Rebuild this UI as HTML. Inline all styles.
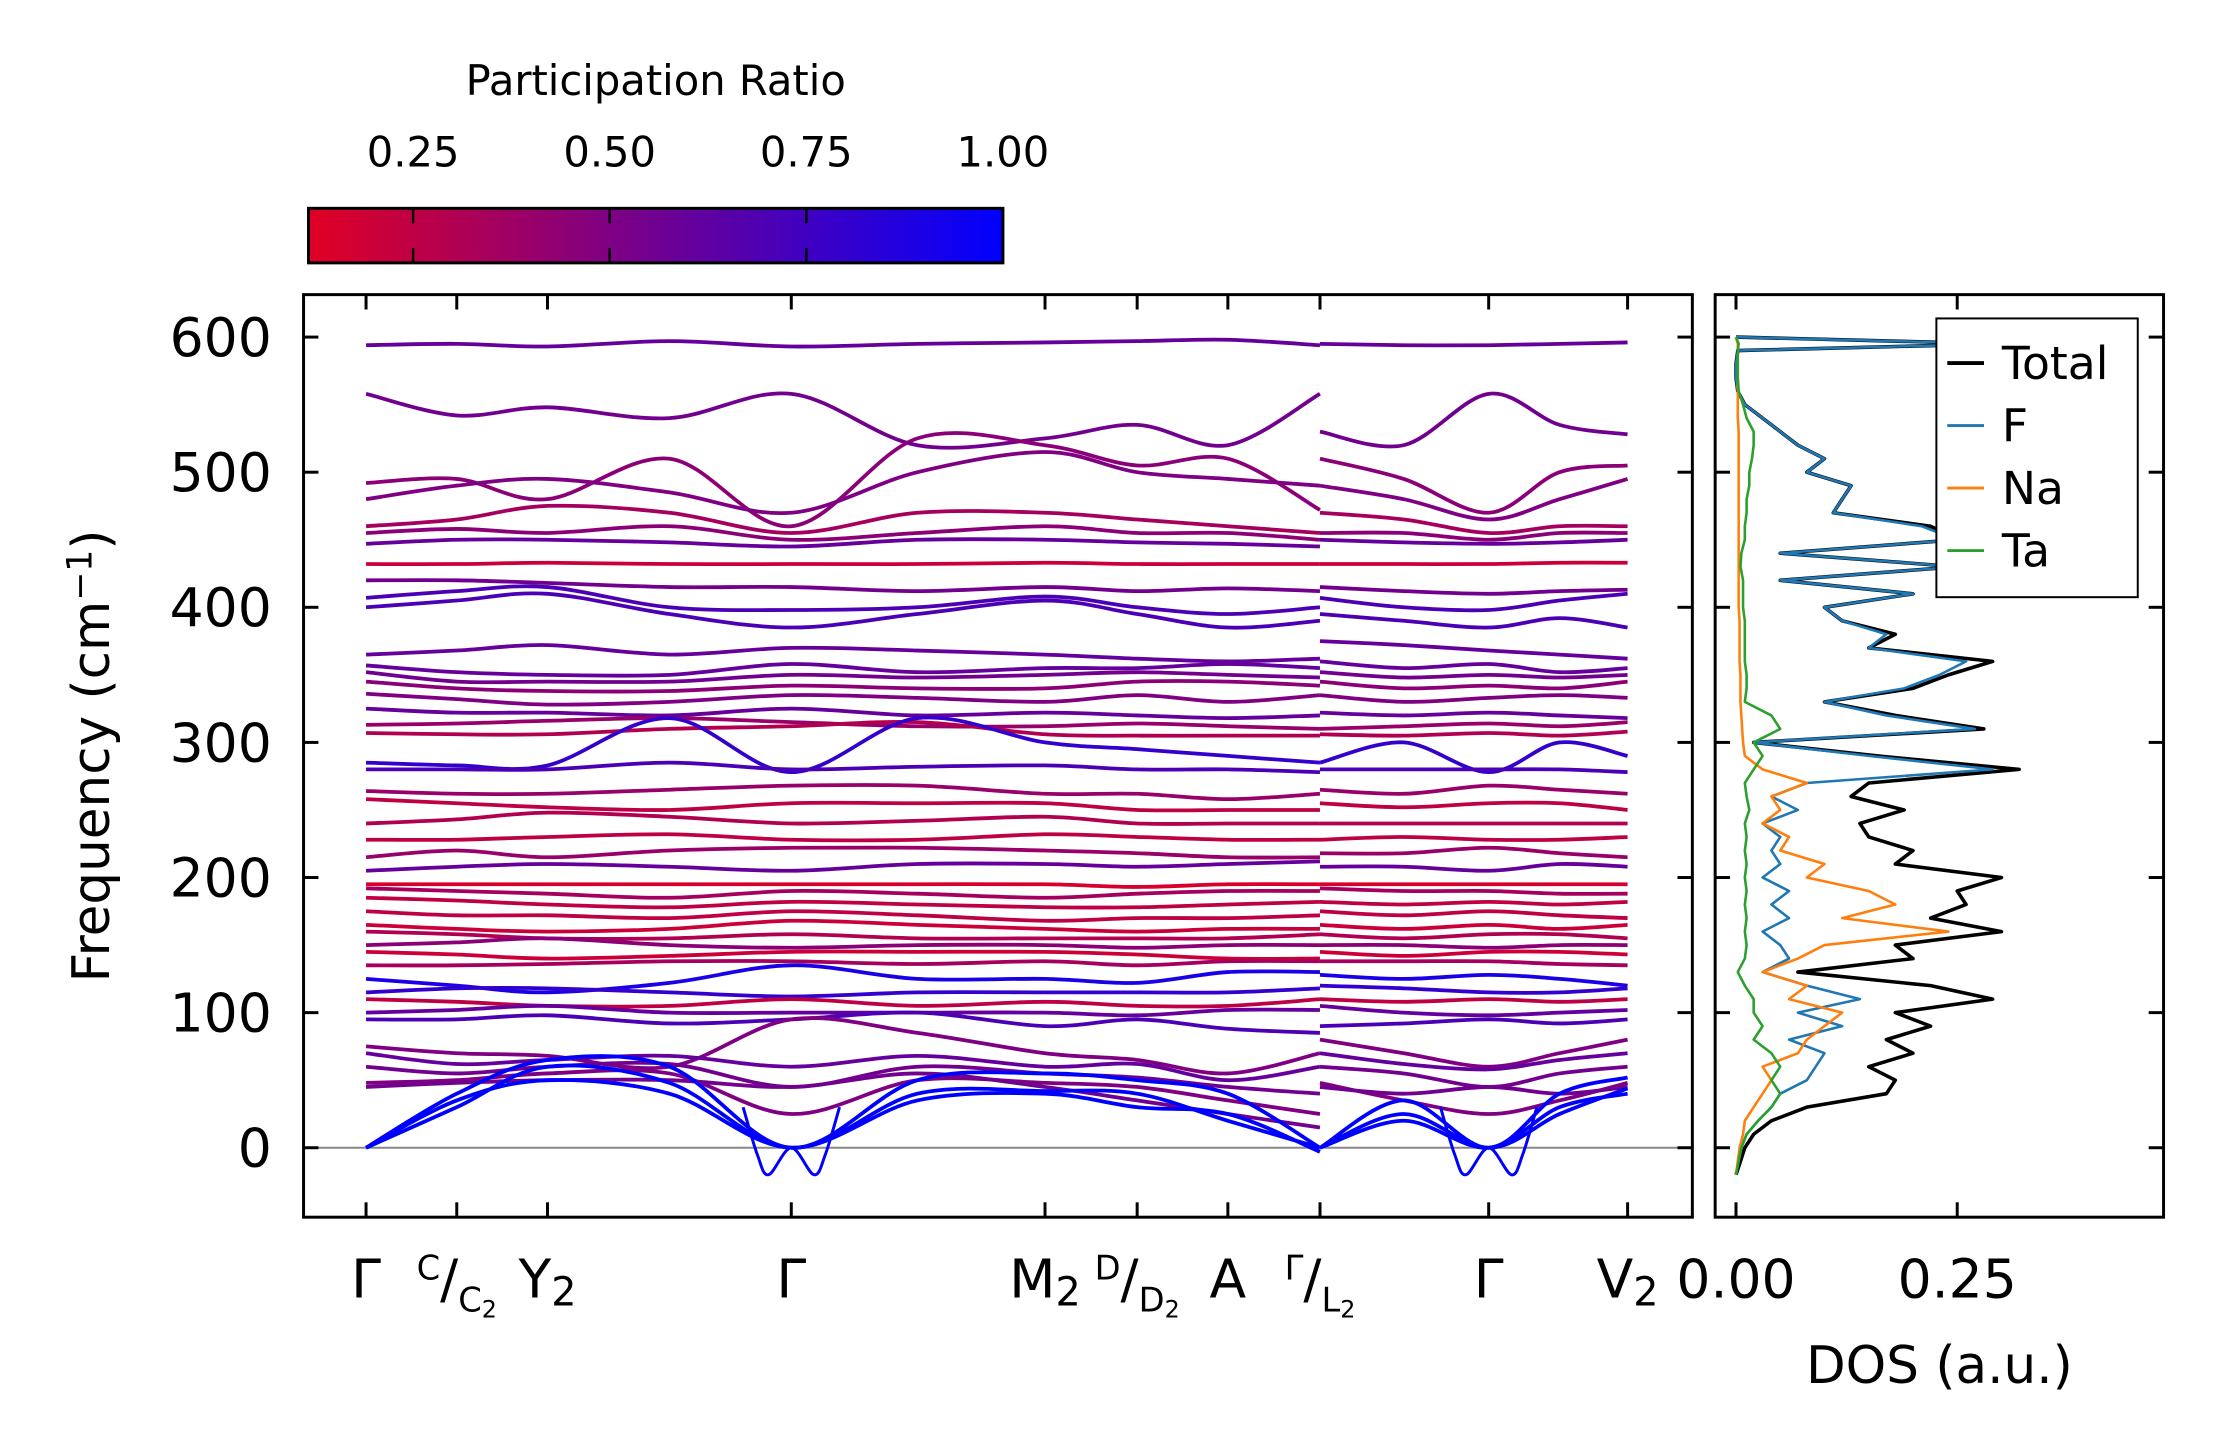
<!DOCTYPE html>
<html><head><meta charset="utf-8"><style>
html,body{margin:0;padding:0;background:#fff}
svg{display:block}
text{font-family:"DejaVu Sans","Liberation Sans",sans-serif;fill:#000}
</style></head><body>
<svg id="fig" width="2222" height="1455" viewBox="0 0 2222 1455" xmlns="http://www.w3.org/2000/svg">
<defs>
<linearGradient id="cbgrad" x1="0" x2="1" y1="0" y2="0">
<stop offset="0" stop-color="rgb(224,0,36)"/><stop offset="1" stop-color="rgb(0,0,255)"/>
</linearGradient>
<clipPath id="mainclip"><rect x="306" y="297" width="1400" height="930"/></clipPath>
<clipPath id="dosclip"><rect x="1729" y="297" width="452" height="930"/></clipPath>
</defs>
<g id="root" transform="scale(0.992)">
<g id="colorbar">
<text x="661" y="96" font-size="42" text-anchor="middle">Participation Ratio</text>
<rect x="311" y="210" width="700" height="55" fill="url(#cbgrad)" stroke="#000" stroke-width="3"/>
</g>
<g id="bands" clip-path="url(#mainclip)"></g>
<g id="dos" clip-path="url(#dosclip)"></g>
<g id="axes"></g>
<g id="legend"></g>
</g>
</svg>
<script>
// ---------- data ----------
const cbTicks = [0.25, 0.50, 0.75, 1.00];
const cbMin = 0.117, cbMax = 1.0;
const kLabels = ["Γ", "C/C|2", "Y|2", "Γ", "M|2", "D/D|2", "A", "Γ/L|2", "Γ", "V|2"];
const kTicks = [0, 64, 128, 300, 479, 544, 608, 673, 792, 890];
const kLeft = [0, 64, 128, 214, 300, 389, 479, 544, 608, 673];
const kRight = [673, 732, 792, 842, 890];
const yTicks = [0, 100, 200, 300, 400, 500, 600];
const bands = [
[594,595,593,597,593,595,596,597,598,594, 595,594,594,595,596],
[558,542,548,540,558,520,525,535,520,558, 530,520,558,535,528],
[492,495,480,510,460,525,520,505,510,472, 510,495,470,500,505],
[480,490,495,485,470,500,515,500,495,490, 490,480,465,480,495],
[460,465,475,470,455,470,470,465,460,455, 470,465,455,460,460],
[455,458,455,460,450,455,460,455,455,450, 455,455,450,455,455],
[447,450,450,448,445,450,450,448,447,445, 450,448,447,448,450],
[432,432,433,432,432,432,433,432,432,432, 432,432,432,433,433],
[420,420,418,415,415,412,415,412,414,412, 415,412,410,412,413],
[407,412,415,400,398,400,408,400,395,400, 407,400,398,405,410],
[400,405,410,395,385,395,405,395,385,390, 395,390,385,392,385],
[365,368,372,365,370,368,365,362,360,362, 375,372,368,365,362],
[357,352,350,350,358,352,355,355,358,355, 360,355,358,352,355],
[352,345,345,345,350,348,350,352,350,348, 352,348,350,348,350],
[345,340,338,338,342,340,340,345,345,342, 345,340,342,340,345],
[336,332,328,330,335,333,330,335,330,335, 335,330,333,335,333],
[325,322,322,320,325,320,322,320,318,320, 322,320,322,320,318],
[313,314,316,318,315,312,312,314,312,310, 310,312,314,312,315],
[307,306,306,310,312,315,306,305,305,305, 306,305,307,305,308],
[285,283,283,318,278,318,300,295,290,285, 285,300,278,300,290],
[280,280,280,285,280,282,283,280,280,278, 280,280,280,280,278],
[264,262,262,265,268,268,262,262,258,262, 265,262,268,265,262],
[258,255,252,250,255,255,255,250,250,250, 255,252,255,255,250],
[240,243,248,245,240,242,245,240,240,240, 240,240,240,240,240],
[228,228,230,232,228,228,232,230,228,228, 228,230,228,228,230],
[215,220,215,220,222,222,220,218,215,215, 218,218,222,218,215],
[205,208,210,208,205,210,210,208,210,212, 208,208,205,210,208],
[195,195,195,195,195,195,195,193,195,195, 195,195,195,195,195],
[192,190,188,185,190,188,185,188,190,190, 192,190,190,188,188],
[185,183,180,178,182,180,178,178,180,182, 182,180,182,180,182],
[175,172,172,170,175,172,168,170,170,172, 175,172,175,172,170],
[165,162,160,162,168,165,162,160,162,162, 165,162,165,162,165],
[160,158,155,155,158,155,155,155,155,158, 158,155,158,158,155],
[150,152,155,150,148,150,150,148,150,150, 150,150,148,150,150],
[145,143,140,142,145,145,145,143,140,140, 145,142,145,145,143],
[135,135,136,138,138,136,138,135,138,138, 138,138,138,136,135],
[125,120,115,122,135,125,125,122,130,130, 128,125,128,125,120],
[115,118,118,115,112,115,115,115,115,118, 120,118,115,115,118],
[110,108,105,105,110,105,108,105,105,110, 110,108,110,108,110],
[100,102,105,100,100,100,100,98,102,102, 105,100,98,100,102],
[95,95,98,92,95,100,90,95,88,85, 90,92,95,92,95],
[75,70,68,60,95,85,70,65,55,70, 80,70,60,70,80],
[70,62,65,68,60,68,60,62,50,60, 70,62,58,65,70],
[60,55,60,62,45,60,55,52,45,40, 60,55,45,55,60],
[48,50,55,55,25,50,48,45,35,25, 48,35,25,35,48],
[45,48,50,50,45,55,45,35,25,15, 45,40,45,40,45],
[0,30,60,48,0,40,42,40,20,0, 0,25,0,25,44],
[0,40,65,60,0,50,55,50,40,0, 0,35,0,40,52],
[0,35,50,40,0,35,40,30,25,-3, 0,20,0,30,40]
];
const bandPR = [0.6,0.55,0.45,0.5,0.35,0.45,0.6,0.2,0.55,0.7,0.7,0.6,0.6,0.55,0.45,0.5,0.6,0.4,0.3,0.8,0.7,0.4,0.25,0.3,0.25,0.4,0.6,0.15,0.35,0.25,0.25,0.2,0.3,0.45,0.2,0.35,0.9,0.8,0.25,0.6,0.7,0.5,0.6,0.55,0.5,0.55,1.0,1.0,1.0];
const softK1 = [266, 276, 284, 300, 316, 324, 334];
const softF1 = [30, -5, -20, 0, -20, -5, 30];
const softK2 = [758, 768, 776, 792, 808, 816, 826];
const softF2 = [30, -5, -20, 0, -20, -5, 30];
const dosFreq = [-20,-10,0,10,20,30,40,50,60,70,80,90,100,110,120,130,140,150,160,170,180,190,200,210,220,230,240,250,260,270,280,290,300,310,320,330,340,350,360,370,380,390,400,410,420,430,440,450,460,470,480,490,500,510,520,530,540,550,560,570,580,590,595,600];
const dosTotal = [0,0.005,0.01,0.02,0.04,0.08,0.17,0.18,0.15,0.20,0.17,0.22,0.18,0.29,0.22,0.07,0.20,0.18,0.30,0.22,0.26,0.25,0.30,0.18,0.20,0.15,0.14,0.19,0.13,0.15,0.32,0.16,0.02,0.28,0.18,0.10,0.20,0.24,0.29,0.15,0.18,0.12,0.10,0.20,0.05,0.25,0.05,0.25,0.22,0.11,0.12,0.13,0.08,0.10,0.07,0.05,0.03,0.01,0.002,0,0,0.002,0.30,0];
const dosF = [0,0.003,0.006,0.012,0.025,0.04,0.05,0.08,0.09,0.10,0.06,0.12,0.07,0.14,0.08,0.03,0.06,0.05,0.03,0.06,0.04,0.06,0.03,0.05,0.04,0.05,0.03,0.07,0.04,0.08,0.29,0.15,0.02,0.27,0.17,0.10,0.19,0.23,0.26,0.15,0.17,0.12,0.10,0.20,0.05,0.25,0.05,0.25,0.21,0.11,0.12,0.13,0.08,0.10,0.07,0.05,0.03,0.01,0.002,0,0,0.002,0.30,0];
const dosNa = [0,0.002,0.004,0.008,0.01,0.02,0.03,0.04,0.03,0.07,0.08,0.10,0.12,0.06,0.08,0.03,0.07,0.10,0.24,0.12,0.18,0.15,0.08,0.10,0.05,0.06,0.03,0.05,0.04,0.08,0.03,0.01,0.008,0.007,0.006,0.005,0.005,0.005,0.004,0.004,0.004,0.004,0.003,0.003,0.003,0.003,0.003,0.003,0.003,0.003,0.003,0.003,0.003,0.003,0.003,0.003,0.002,0.002,0.002,0.002,0.002,0.002,0.002,0];
const dosTa = [0,0.003,0.006,0.012,0.025,0.04,0.05,0.04,0.05,0.04,0.02,0.03,0.02,0.02,0.01,0.002,0.01,0.012,0.01,0.012,0.01,0.012,0.01,0.012,0.01,0.012,0.01,0.015,0.012,0.01,0.02,0.03,0.02,0.05,0.04,0.01,0.012,0.012,0.01,0.01,0.01,0.01,0.008,0.008,0.008,0.005,0.006,0.01,0.01,0.012,0.012,0.015,0.015,0.018,0.02,0.02,0.012,0.008,0.003,0.002,0.002,0.002,0.003,0];
const dosXTicks = [0, 0.25];
const legendNames = ["Total", "F", "Na", "Ta"];
const legendColors = ["#000000", "#1f77b4", "#ff7f0e", "#2ca02c"];

// ---------- scales ----------
const NS = "http://www.w3.org/2000/svg";
const X0 = 369, KPX = 1.4289;
const xK = k => X0 + k * KPX;
const yF = f => 1157 - f * 1.362;
const xD = d => 1750 + d * 892;
function prColor(p){
  const t = Math.max(0, Math.min(1, (p - cbMin) / (cbMax - cbMin)));
  return `rgb(${Math.round(224*(1-t))},0,${Math.round(36 + 219*t)})`;
}
function mk(tag, attrs, parent){
  const e = document.createElementNS(NS, tag);
  for (const a in attrs) e.setAttribute(a, attrs[a]);
  parent.appendChild(e); return e;
}
function smoothPath(pts){
  let d = `M${pts[0][0].toFixed(1)},${pts[0][1].toFixed(1)}`;
  for (let i = 0; i < pts.length - 1; i++){
    const p0 = pts[i-1] || pts[i], p1 = pts[i], p2 = pts[i+1], p3 = pts[i+2] || p2;
    const c1x = p1[0] + (p2[0]-p0[0])/6, c1y = p1[1] + (p2[1]-p0[1])/6;
    const c2x = p2[0] - (p3[0]-p1[0])/6, c2y = p2[1] - (p3[1]-p1[1])/6;
    d += ` C${c1x.toFixed(1)},${c1y.toFixed(1)} ${c2x.toFixed(1)},${c2y.toFixed(1)} ${p2[0].toFixed(1)},${p2[1].toFixed(1)}`;
  }
  return d;
}
const gB = document.getElementById('bands');
const gD = document.getElementById('dos');
const gA = document.getElementById('axes');
const gL = document.getElementById('legend');
const cb = document.getElementById('colorbar');

const zl = mk('line', {x1:306, x2:1706, y1:yF(0), y2:yF(0), stroke:'#888', 'stroke-width':2}, gB);



bands.forEach((b, i) => {
  const col = prColor(bandPR[i]);
  const left = kLeft.map((k, j) => [xK(k), yF(b[j])]);
  const right = kRight.map((k, j) => [xK(k), yF(b[10 + j])]);
  [left, right].forEach(pts => {
    const p = mk('path', {d: smoothPath(pts), fill:'none', stroke: col, 'stroke-width': 3.8}, gB);
    
    
  });
});
[[softK1, softF1], [softK2, softF2]].forEach(([ks, fs]) => {
  const pts = ks.map((k, j) => [xK(k), yF(fs[j])]);
  const p = mk('path', {d: smoothPath(pts), fill:'none', stroke: prColor(1), 'stroke-width': 3}, gB);
  
  
});

[[dosTotal,0],[dosF,1],[dosNa,2],[dosTa,3]].forEach(([arr, ci]) => {
  const pts = dosFreq.map((f, j) => `${xD(arr[j]).toFixed(1)},${yF(f).toFixed(1)}`).join(' ');
  const pl = mk('polyline', {points: pts, fill:'none', stroke: legendColors[ci], 'stroke-width': ci === 0 ? 3.6 : 2.6, 'stroke-linejoin':'round'}, gD);
  
  
});

const f1 = mk('rect', {x:306, y:297, width:1400, height:930, fill:'none', stroke:'#000', 'stroke-width':3}, gA);


const f2 = mk('rect', {x:1729, y:297, width:452, height:930, fill:'none', stroke:'#000', 'stroke-width':3}, gA);



yTicks.forEach(v => {
  const y = yF(v);
  [[306, 321],[1706, 1691],[1729, 1744],[2181, 2166]].forEach(([a, b]) => {
    const t = mk('line', {x1:a, x2:b, y1:y, y2:y, stroke:'#000', 'stroke-width':3}, gA);
    
    
  });
  const lb = mk('text', {x:274, y:y + 19, 'font-size':54, 'text-anchor':'end'}, gA);
  lb.textContent = String(v);
  
  
});
kTicks.forEach(k => {
  const x = xK(k);
  [[1227, 1212],[297, 312]].forEach(([a, b]) => {
    const t = mk('line', {x1:x, x2:x, y1:a, y2:b, stroke:'#000', 'stroke-width':3}, gA);
    
    
  });
});
const kl = mk('g', {}, gA);


kLabels.forEach((lab, i) => {
  const x = xK(kTicks[i]);
  const t = mk('text', {x:x, y:1308, 'font-size':54, 'text-anchor':'middle'}, kl);
  
  
  if (lab.includes('/')) {
    const [a, b] = lab.split('/');
    const [bm, bs] = b.split('|');
    const s1 = mk('tspan', {'font-size':34, dy:-18}, t); s1.textContent = a;
    const s2 = mk('tspan', {'font-size':54, dy:18}, t); s2.textContent = '/';
    const s3 = mk('tspan', {'font-size':34, dy:14}, t); s3.textContent = bm;
    const s4 = mk('tspan', {'font-size':24, dy:6}, t); s4.textContent = bs;
  } else if (lab.includes('|')) {
    const [m, s] = lab.split('|');
    const s1 = mk('tspan', {}, t); s1.textContent = m;
    const s2 = mk('tspan', {'font-size':40, dy:8}, t); s2.textContent = s;
  } else t.textContent = lab;
});
dosXTicks.forEach(v => {
  const x = xD(v);
  [[1227, 1212],[297, 312]].forEach(([a, b]) => {
    const t = mk('line', {x1:x, x2:x, y1:a, y2:b, stroke:'#000', 'stroke-width':3}, gA);
    
    
  });
  const lb = mk('text', {x:x, y:1308, 'font-size':54, 'text-anchor':'middle'}, gA);
  lb.textContent = v.toFixed(2);
  
  
});
const yt = mk('text', {x:0, y:0, 'font-size':52, 'text-anchor':'middle', transform:'translate(110,762) rotate(-90)'}, gA);


yt.innerHTML = 'Frequency (cm<tspan font-size="35" dy="-18">−1</tspan><tspan dy="18">)</tspan>';
const xt = mk('text', {x:1955, y:1394, 'font-size':52, 'text-anchor':'middle'}, gA);
xt.textContent = 'DOS (a.u.)';



cbTicks.forEach(v => {
  const x = 311 + (v - cbMin) / (cbMax - cbMin) * 700;
  if (v < 1) {
    [[210, 225],[265, 250]].forEach(([a, b]) => {
      const t = mk('line', {x1:x, x2:x, y1:a, y2:b, stroke:'#000', 'stroke-width':2.5}, cb);
      
      
    });
  }
  const lb = mk('text', {x:x, y:168, 'font-size':42, 'text-anchor':'middle'}, cb);
  lb.textContent = v.toFixed(2);
  
  
});

const lbox = mk('rect', {x:1952, y:321, width:203, height:281, fill:'#fff', stroke:'#000', 'stroke-width':2}, gL);


legendNames.forEach((n, i) => {
  const y = 366 + i * 63;
  const ln = mk('line', {x1:1963, x2:2000, y1:y, y2:y, stroke:legendColors[i], 'stroke-width': i === 0 ? 4 : 3}, gL);
  
  
  const t = mk('text', {x:2018, y:y + 16, 'font-size':46}, gL);
  t.textContent = n;
  
  
});
</script>
</body></html>
